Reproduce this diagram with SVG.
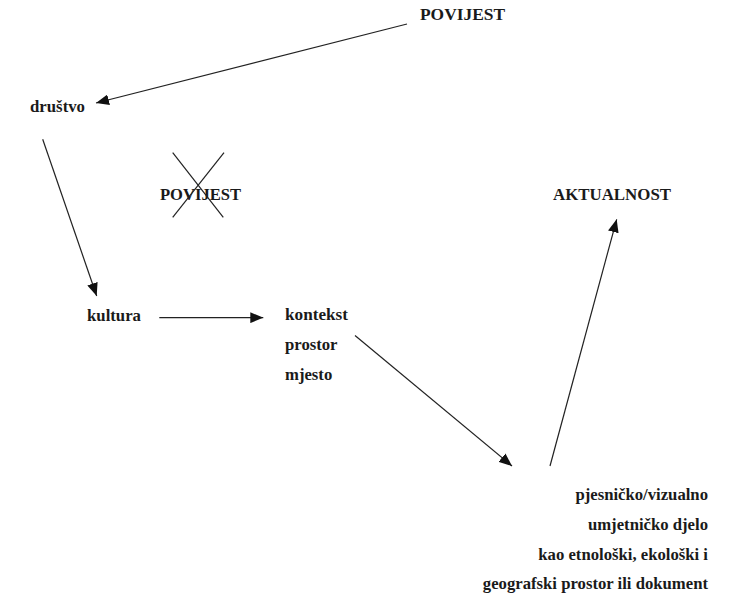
<svg xmlns="http://www.w3.org/2000/svg" width="742" height="597" viewBox="0 0 742 597">
<defs>
<style>
text{font-family:"Liberation Serif","Times New Roman",serif;font-weight:bold;font-size:16.7px;fill:#1a1a1a}
.r{text-anchor:end}
.c{stroke:#222;stroke-width:1.2;fill:none}
</style>
<marker id="ah" viewBox="0 0 12 10" refX="12" refY="5" markerWidth="13" markerHeight="11" markerUnits="userSpaceOnUse" orient="auto">
<path d="M0,0 L12,5 L0,10 Z" fill="#111"/>
</marker>
</defs>
<rect width="742" height="597" fill="#fff"/>
<g id="povijest-top"><text x="420" y="20" textLength="85" lengthAdjust="spacingAndGlyphs">POVIJEST</text></g>
<g id="drustvo"><text x="30" y="112" textLength="55" lengthAdjust="spacingAndGlyphs">društvo</text></g>
<g id="povijest-crossed">
<text x="160" y="200" textLength="81" lengthAdjust="spacingAndGlyphs">POVIJEST</text>
<line class="c" x1="172.7" y1="152.7" x2="223.3" y2="217.3"/>
<line class="c" x1="224" y1="152.7" x2="172.7" y2="217.3"/>
</g>
<g id="aktualnost"><text x="553" y="200" textLength="118" lengthAdjust="spacingAndGlyphs">AKTUALNOST</text></g>
<g id="kultura"><text x="87" y="321" textLength="54" lengthAdjust="spacingAndGlyphs">kultura</text></g>
<g id="kontekst">
<text x="285" y="320" textLength="63" lengthAdjust="spacingAndGlyphs">kontekst</text>
<text x="285" y="350">prostor</text>
<text x="285" y="380">mjesto</text>
</g>
<g id="djelo">
<text class="r" x="708" y="500">pjesničko/vizualno</text>
<text class="r" x="708" y="530">umjetničko djelo</text>
<text class="r" x="708" y="560">kao etnološki, ekološki i</text>
<text class="r" x="708" y="589">geografski prostor ili dokument</text>
</g>
<g id="connectors">
<line class="c" x1="407" y1="24" x2="96" y2="103" marker-end="url(#ah)"/>
<line class="c" x1="42.7" y1="139.3" x2="96.7" y2="296" marker-end="url(#ah)"/>
<line class="c" x1="159.3" y1="317.7" x2="263.3" y2="317.7" marker-end="url(#ah)"/>
<line class="c" x1="355" y1="335.5" x2="512" y2="466" marker-end="url(#ah)"/>
<line class="c" x1="550" y1="466" x2="616.7" y2="219.3" marker-end="url(#ah)"/>
</g>
</svg>
